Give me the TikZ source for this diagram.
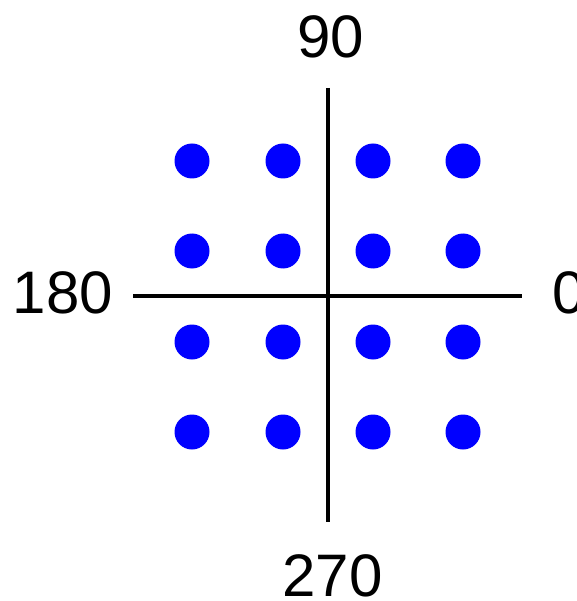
\documentclass[tikz,border=0pt]{standalone}
\usepackage{fontspec}
\setmainfont{Liberation Sans}
\begin{document}
\begin{tikzpicture}[x=1pt,y=-1pt,
  axis/.style={line width=4pt},
  dot/.style={circle,fill=blue,inner sep=0pt,minimum size=35pt},
  lbl/.style={inner sep=0pt,font=\fontsize{60}{60}\selectfont}]
\useasboundingbox (0,0) rectangle (576,601);
\coordinate (xl) at (133,296);
\coordinate (xr) at (522,296);
\coordinate (yt) at (328,88);
\coordinate (yb) at (328,522);
\draw[axis] (xl) -- (xr);
\draw[axis] (yt) -- (yb);
\foreach \i/\x in {1/192,2/283,3/373,4/463}{
  \foreach \j/\y in {1/161,2/251,3/342,4/432}{
    \node[dot] (d\i\j) at (\x,\y) {};
  }
}
\node[lbl,anchor=base] (l90) at (331,57.5) {90};
\node[lbl,anchor=base] (l180) at (63,313) {180};
\node[lbl,anchor=base west] (l0) at (552,313) {0};
\node[lbl,anchor=base] (l270) at (332.5,596.5) {270};
\end{tikzpicture}
\end{document}
